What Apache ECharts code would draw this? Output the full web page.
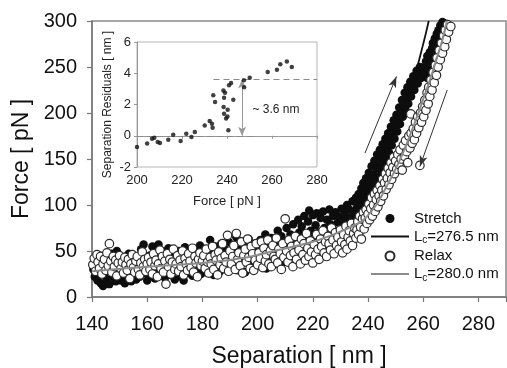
<!DOCTYPE html>
<html>
<head>
<meta charset="utf-8">
<script src="https://cdn.jsdelivr.net/npm/echarts@6/dist/echarts.min.js"></script>
<style>
html, body { margin: 0; padding: 0; background: #fff; }
#chart { width: 507px; height: 368px; }
</style>
</head>
<body>
<div id="chart"></div>
<script>
// force–separation data: [separation nm, force pN]
var stretchPts = [
  [140.5,30],[141,22],[141.5,38],[142,18],[142.3,27],[142.8,45],[143.2,15],[143.6,33],[144,12],[144.5,24],[145,40],[145.4,19],[145.9,30],[146.3,14],[146.8,36],[147.2,47],[147.6,22],[148.1,28],[148.6,17],[149,50],[149.5,33],[150,25],
  [150.5,18],[151,42],[151.4,30],[151.9,15],[152.3,36],[152.8,22],[153.3,47],[153.7,28],[154.2,17],[154.6,39],[155.1,24],[155.5,33],[156,19],[156.4,44],[156.9,29],[157.3,22],[157.8,52],[158.2,35],[158.7,57],[159.1,26],[159.6,40],[160,18],
  [160.5,31],[161,45],[161.4,23],[161.9,55],[162.3,36],[162.8,20],[163.2,48],[163.7,29],[164.1,57],[164.6,39],[165,25],[165.5,50],[165.9,33],[166.4,21],[166.8,43],[167.3,30],[167.7,53],[168.2,37],[168.6,24],[169.1,46],[169.5,32],[170,19],
  [170.5,40],[171,28],[171.4,50],[171.9,35],[172.3,22],[172.8,44],[173.2,18],[173.7,54],[174.1,31],[174.6,41],[175,26],[175.5,48],[175.9,36],[176.4,23],[176.8,52],[177.3,39],[177.7,29],[178.2,45],[178.6,33],[179.1,56],[179.5,25],[180,42],
  [180.5,35],[181,50],[181.4,27],[181.9,44],[182.3,38],[182.8,62],[183.2,31],[183.7,47],[184.1,24],[184.6,55],[185,40],[185.5,33],[185.9,49],[186.4,28],[186.8,58],[187.3,43],[187.7,36],[188.2,52],[188.6,30],[189.1,46],[189.5,60],[190,38],
  [190.5,49],[191,33],[191.4,56],[191.9,42],[192.3,65],[192.8,29],[193.2,51],[193.7,45],[194.1,37],[194.6,60],[195,48],[195.5,27],[195.9,54],[196.4,41],[196.8,63],[197.3,35],[197.7,50],[198.2,44],[198.6,58],[199.1,32],[199.5,47],[200,55],
  [200.5,40],[201,62],[201.4,36],[201.9,52],[202.3,45],[202.8,68],[203.2,31],[203.7,57],[204.1,48],[204.6,41],[205,64],[205.5,53],[205.9,35],[206.4,60],[206.8,46],[207.3,72],[207.7,55],[208.2,42],[208.6,66],[209.1,50],[209.5,38],[210,61],
  [210.5,75],[211,52],[211.4,44],[211.9,68],[212.3,58],[212.9,79],[213.3,47],[213.8,63],[214.2,55],[214.7,84],[215.1,70],[215.6,49],[216,77],[216.5,60],[216.9,88],[217.4,66],[217.8,53],[218.3,82],[218.7,94],[219.2,72],[219.6,58],[220,89],
  [220.5,64],[221,78],[221.4,91],[221.9,55],[222.3,70],[222.8,86],[223.3,62],[223.7,93],[224.2,75],[224.6,58],[225.1,84],[225.5,68],[226,95],[226.4,79],[226.9,63],[227.3,88],[227.8,72],[228.2,92],[228.7,66],[229.1,81],[229.6,87],[230,70],
  [230.4,96],[230.8,78],[231.2,64],[231.6,90],[232,83],[232.4,100],[232.8,74],[233.2,95],[233.6,86],[234,68],[234.4,104],[234.8,92],[235.2,80],[235.6,108],[236,97],
  [236.3,85],[236.6,112],[237,101],[237.3,90],[237.6,118],[238,106],[238.3,124],[238.6,96],[239,113],[239.3,129],[239.6,105],[240,120],
  [240.3,135],[240.6,112],[241,127],[241.3,142],[241.6,118],[242,133],[242.3,148],[242.6,125],[243,140],[243.3,155],[243.6,131],[244,146],
  [244.3,160],[244.6,139],[245,152],[245.3,166],[245.6,145],[246,158],[246.3,172],[246.6,150],[247,164],[247.3,178],[247.6,157],[248,171],
  [248.3,185],[248.6,165],[249,178],[249.3,192],[249.6,172],[250,186],[250.3,198],[250.6,180],[251,194],
  [251.3,206],[251.6,188],[252,200],[252.3,214],[252.6,196],[253,208],[253.3,222],[253.6,203],[254,216],
  [254.3,228],[254.6,210],[255,222],[255.3,234],[255.6,218],[256,229],[256.4,240],[256.8,225],[257.2,236],[257.6,246],[258,232],
  [258.4,242],[258.8,250],[259.2,238],[259.6,246],[260,241],[260.5,249],[261,244],[261.5,238],[262,247],
  [261,256],[261.5,262],[262,254],[262.4,266],[262.8,259],[263.2,270],
  [263.5,276],[263.8,265],[264.2,281],[264.5,272],[264.9,286],[265.2,278],
  [265.5,290],[265.8,283],[266.2,295],[266.6,288],[267,299],[267.4,292],[267.8,302],[268.2,297]
];
var relaxPts = [
  [140.3,35],[140.8,42],[141.3,28],[141.8,46],[142.2,38],[142.7,31],[143.1,44],[143.6,25],[144,36],[144.5,41],[145,29],[145.4,48],[145.9,34],[146.3,58],[146.8,39],[147.2,27],[147.7,44],[148.1,33],[148.6,40],[149,23],[149.5,37],[150,45],
  [150.5,31],[151,38],[151.4,26],[151.9,43],[152.3,35],[152.8,29],[153.2,41],[153.7,20],[154.1,36],[154.6,46],[155,32],[155.5,27],[155.9,39],[156.4,44],[156.8,30],[157.3,24],[157.7,37],[158.2,49],[158.6,33],[159.1,41],[159.5,28],[160,36],
  [160.5,43],[161,30],[161.4,38],[161.9,25],[162.3,47],[162.8,34],[163.2,40],[163.7,22],[164.1,36],[164.6,51],[165,31],[165.5,44],[165.9,27],[166.4,39],[166.8,14],[167.3,47],[167.7,33],[168.2,41],[168.6,25],[169.1,38],[169.5,52],[170,30],
  [170.5,36],[171,45],[171.4,28],[171.9,40],[172.3,33],[172.8,50],[173.2,24],[173.7,42],[174.1,36],[174.6,29],[175,47],[175.5,39],[175.9,32],[176.4,53],[176.8,27],[177.3,44],[177.7,37],[178.2,22],[178.6,41],[179.1,48],[179.5,34],[180,39],
  [180.5,45],[181,31],[181.4,52],[181.9,38],[182.3,26],[182.8,43],[183.2,36],[183.7,55],[184.1,30],[184.6,46],[185,40],[185.5,24],[185.9,49],[186.4,35],[186.8,42],[187.3,58],[187.7,31],[188.2,45],[188.6,38],[189.1,67],[189.5,28],[190,50],
  [190.5,36],[191,44],[191.4,56],[191.9,30],[192.3,69],[192.8,41],[193.2,48],[193.7,34],[194.1,60],[194.6,26],[195,45],[195.5,52],[195.9,38],[196.4,63],[196.8,43],[197.3,31],[197.7,55],[198.2,47],[198.6,29],[199.1,40],[199.5,58],[200,35],
  [200.5,48],[201,42],[201.4,60],[201.9,32],[202.3,53],[202.8,39],[203.2,46],[203.7,62],[204.1,36],[204.6,50],[205,33],[205.5,56],[205.9,44],[206.4,41],[206.8,64],[207.3,37],[207.7,52],[208.2,47],[208.6,30],[209.1,58],[209.5,43],[210,85],
  [210.5,50],[211,38],[211.4,62],[211.9,45],[212.3,55],[212.8,33],[213.2,48],[213.7,66],[214.1,41],[214.6,57],[215,51],[215.5,36],[215.9,63],[216.4,46],[216.8,58],[217.3,40],[217.7,69],[218.2,53],[218.6,44],[219.1,61],[219.5,49],[220,37],
  [220.5,57],[221,46],[221.4,68],[221.9,52],[222.3,41],[222.8,63],[223.2,55],[223.7,72],[224.1,48],[224.6,60],[225,44],[225.5,66],[225.9,58],[226.4,51],[226.8,75],[227.3,62],[227.7,47],[228.2,70],[228.6,56],[229.1,65],[229.5,52],[230,73],
  [230.4,60],[230.8,48],[231.2,68],[231.6,57],[232,77],[232.4,52],[232.8,65],[233.2,72],[233.6,61],[234,80],[234.4,56],[234.8,69],[235.2,75],[235.6,64],[236,73],
  [236.3,82],[236.6,68],[237,88],[237.3,76],[237.6,63],[238,85],[238.3,92],[238.6,74],[239,86],[239.3,95],[239.6,80],[240,90],
  [240.3,101],[240.6,84],[241,96],[241.3,108],[241.6,88],[242,100],[242.3,112],[242.6,93],[243,106],[243.3,116],[243.6,98],[244,110],
  [244.3,121],[244.6,104],[245,116],[245.3,128],[245.6,110],[246,124],[246.3,134],[246.6,117],[247,129],[247.3,140],[247.6,122],[248,135],
  [248.3,146],[248.6,128],[249,141],[249.3,152],[249.6,134],[250,148],[250.4,139],[250.8,155],[251.2,144],[251.6,160],[252,150],
  [252.4,138],[252.8,165],[253.2,153],[253.6,170],[254,158],[254.4,146],[254.8,175],[255.2,162],[255.6,178],[256,167],
  [255.5,199],[256.4,183],[256.8,171],[257.2,190],[257.6,178],[258,196],[258.4,184],[258.8,143],[259,200],
  [259.4,190],[259.8,207],[260.2,196],[260.6,214],[261,203],[261.4,222],[261.8,210],[262,228],
  [262.4,218],[262.8,236],[263.2,225],[263.6,244],[264,233],[264.4,252],[264.8,241],[265,260],
  [265.4,250],[265.8,268],[266.2,258],[266.6,276],[267,265],[267.4,284],[267.8,272],[268,290],
  [268.4,280],[268.8,296],[269.2,288],[269.6,302],[270,294],[270.4,305]
];
// WLC fit curves as traced in the figure
var fitStretch = [
  [140,28],[160,32],[180,38],[200,46],[215,56],[225,67],[232,80],[237,97],[240.5,120],[243.5,140],
  [246.5,160],[249,180],[251.5,198],[253.5,213],[255.3,228],[256.9,242],[258.2,254],[259.4,268],[260.6,282],[262,300]
];
var fitRelax = [
  [140,28],[160,33],[180,37],[194,42],[206,50],[220,60],[230,71],[238,83],[243,100],[246,116],
  [249,133],[252,152],[255,174],[258,198],[260.7,221],[263,241],[265.2,262],[267,280],[268.6,300]
];
// inset: separation residuals vs force
var resForce = [200,204.5,206.7,207.7,209.2,210.2,213.9,216.1,219.4,221.9,224.2,225.7,230.1,232.3,233.3,233.6,233.9,234.7,
  238.4,239.1,238.7,238.5,238.7,239.6,240.3,240.2,240.6,240.9,241.8,242.8,247.5,247.6,250.1,258.1,262.2,263.7,266.6,268.8];
var resValue = [-0.72,-0.5,-0.19,-0.12,-0.4,-0.46,-0.25,0.07,-0.33,0.13,-0.08,0.24,0.65,0.94,0.77,0.52,2.6,2.16,
  2.9,2.76,2.44,1.84,1.41,1.1,1.67,1.24,0.35,3.23,3.38,2.31,3.55,3.1,3.72,4.08,4.23,4.57,4.76,4.4];
var stepLevel = 3.6;

var FONT = 'Liberation Sans, Arial, Helvetica, sans-serif';
// thin bar legend icon (bounding box padded by the move-to points)
var LINE_ICON = 'path://M0,0 M0,3.5 L38,3.5 L38,5.5 L0,5.5 Z M38,9';
var residualPts = resForce.map(function (f, i) { return [f, resValue[i]]; });

var chart = echarts.init(document.getElementById('chart'));
chart.setOption({
  animation: false,
  backgroundColor: '#fff',
  textStyle: { fontFamily: FONT },
  grid: [
    { left: 92, right: 1, top: 21, bottom: 71, show: true, borderColor: '#8a8a8a', borderWidth: 1.5, outerBoundsMode: 'none' },
    { left: 137, right: 190, top: 42, bottom: 201, show: true, backgroundColor: '#fff', borderColor: '#b5b5b5', borderWidth: 1, outerBoundsMode: 'none' }
  ],
  legend: {
    orient: 'vertical', left: 366, top: 206, itemWidth: 38, itemHeight: 9, itemGap: 3,
    data: [
      { name: 'Stretch', icon: 'circle' },
      { name: 'Lc=276.5 nm', icon: LINE_ICON },
      { name: 'Relax', icon: 'circle' },
      { name: 'Lc=280.0 nm', icon: LINE_ICON }
    ],
    formatter: function (name) {
      if (name.indexOf('Lc=') === 0) return '{n|L}{s|c}{n|' + name.slice(2) + '}';
      return '{n|' + name + '}';
    },
    textStyle: {
      fontSize: 15, color: '#111', fontFamily: FONT,
      rich: {
        n: { fontSize: 15, lineHeight: 18, color: '#111', fontFamily: FONT },
        s: { fontSize: 10, lineHeight: 8, verticalAlign: 'bottom', color: '#111', fontFamily: FONT }
      }
    }
  },
  xAxis: [
    {
      type: 'value', gridIndex: 0, min: 140, max: 290, interval: 20,
      name: 'Separation [ nm ]', nameLocation: 'middle', nameGap: 48,
      nameTextStyle: { fontSize: 23, color: '#111', fontFamily: FONT },
      axisLine: { show: true, lineStyle: { color: '#777', width: 1.5 } },
      axisTick: { show: true, inside: false, length: 5, lineStyle: { color: '#777', width: 1.2 } },
      axisLabel: { fontSize: 20, color: '#111', margin: 17, fontFamily: FONT,
        formatter: function (v) { return v > 285 ? '' : v; } },
      splitLine: { show: false }
    },
    {
      type: 'value', gridIndex: 1, min: 200, max: 280, interval: 20,
      name: 'Force [ pN ]', nameLocation: 'middle', nameGap: 28,
      nameTextStyle: { fontSize: 13, color: '#222', fontFamily: FONT },
      axisLine: { show: true, lineStyle: { color: '#999', width: 1 } },
      axisTick: { show: true, inside: false, length: 3, lineStyle: { color: '#999' } },
      axisLabel: { fontSize: 13, color: '#222', margin: 7, fontFamily: FONT },
      splitLine: { show: false }
    }
  ],
  yAxis: [
    {
      type: 'value', gridIndex: 0, min: 0, max: 300, interval: 50,
      name: 'Force [ pN ]', nameLocation: 'middle', nameGap: 58, nameRotate: 90,
      nameTextStyle: { fontSize: 23, color: '#111', fontFamily: FONT },
      axisLine: { show: true, lineStyle: { color: '#777', width: 1.5 } },
      axisTick: { show: true, inside: false, length: 5, lineStyle: { color: '#777', width: 1.2 } },
      axisLabel: { fontSize: 20, color: '#111', margin: 15, fontFamily: FONT },
      splitLine: { show: false }
    },
    {
      type: 'value', gridIndex: 1, min: -2, max: 6, interval: 2,
      name: 'Separation Residuals [ nm ]', nameLocation: 'middle', nameGap: 23, nameRotate: 90,
      nameTextStyle: { fontSize: 12, color: '#222', fontFamily: FONT },
      axisLine: { show: true, lineStyle: { color: '#999', width: 1 } },
      axisTick: { show: true, inside: false, length: 3, lineStyle: { color: '#999' } },
      axisLabel: { fontSize: 13, color: '#222', margin: 6, fontFamily: FONT },
      splitLine: { show: false }
    }
  ],
  series: [
    {
      name: 'Lc=276.5 nm', type: 'line', xAxisIndex: 0, yAxisIndex: 0, z: 1,
      data: fitStretch, smooth: 0.3, symbol: 'none', showSymbol: false,
      lineStyle: { color: '#111', width: 1.8 }, itemStyle: { color: '#111' }
    },
    {
      name: 'Stretch', type: 'scatter', xAxisIndex: 0, yAxisIndex: 0, z: 2,
      data: stretchPts, symbol: 'circle', symbolSize: 8.5,
      itemStyle: { color: '#0d0d0d', opacity: 1 },
      markLine: {
        silent: true, symbol: ['none', 'arrow'], symbolSize: [6, 11],
        label: { show: false },
        lineStyle: { color: '#333', width: 1, type: 'solid' },
        data: [
          [{ coord: [238.9, 156.4] }, { coord: [250.3, 239.6] }],
          [{ coord: [268.7, 225] }, { coord: [258.8, 141.9] }]
        ]
      }
    },
    {
      name: 'Relax', type: 'scatter', xAxisIndex: 0, yAxisIndex: 0, z: 3,
      data: relaxPts, symbol: 'circle', symbolSize: 8.5,
      itemStyle: { color: '#fff', borderColor: '#2a2a2a', borderWidth: 1.2, opacity: 1 }
    },
    {
      name: 'Lc=280.0 nm', type: 'line', xAxisIndex: 0, yAxisIndex: 0, z: 4,
      data: fitRelax, smooth: 0.3, symbol: 'none', showSymbol: false,
      lineStyle: { color: '#8c8c8c', width: 2 }, itemStyle: { color: '#8c8c8c' }
    },
    {
      name: 'residuals', type: 'scatter', xAxisIndex: 1, yAxisIndex: 1, z: 5,
      data: residualPts, symbol: 'circle', symbolSize: 4.5,
      itemStyle: { color: '#111' },
      markLine: {
        silent: true, symbol: 'none',
        label: { show: false },
        lineStyle: { color: '#8a8a8a', width: 1.2, type: [6, 4] },
        data: [
          [{ coord: [200, 0] }, { coord: [252.5, 0] }],
          [{ coord: [234, stepLevel] }, { coord: [280, stepLevel] }],
          [{ coord: [246.7, stepLevel], symbol: 'arrow', symbolSize: [6, 9], lineStyle: { type: 'solid', color: '#999', width: 1 } },
           { coord: [246.7, 0], symbol: 'arrow', symbolSize: [6, 9], lineStyle: { type: 'solid', color: '#999', width: 1 } }]
        ]
      },
      markPoint: {
        silent: true, symbol: 'circle', symbolSize: 0,
        label: { show: true, position: 'right', distance: 4, formatter: '~ 3.6 nm', fontSize: 12, color: '#222', fontFamily: FONT },
        data: [{ coord: [249.5, 1.67] }]
      }
    }
  ]
});
</script>
</body>
</html>
